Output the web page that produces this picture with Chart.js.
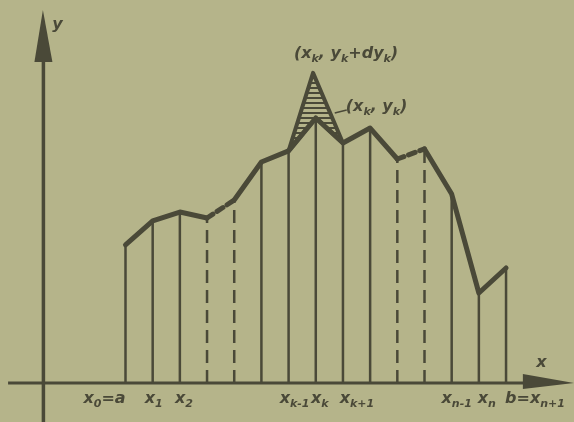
<!DOCTYPE html>
<html>
<head>
<meta charset="utf-8">
<script src="https://cdn.jsdelivr.net/npm/chart.js@4"></script>
<style>
  html, body { margin: 0; padding: 0; background: #b5b48a; overflow: hidden; }
  #wrap { width: 574px; height: 422px; }
</style>
</head>
<body>
<div id="wrap"><canvas id="chart" width="574" height="422"></canvas></div>
<script>
const BG = '#b5b48a';
const INK = '#4a4938';

// partition nodes x0 .. x(n+1) and the ordinates at them
const nodeX = [0, 1, 2, 3, 4, 5, 6, 7, 8, 9, 10, 11, 12, 13, 14];
const nodeY = [5.08, 5.96, 6.29, 6.07, 6.73, 8.13, 8.54, 9.75, 8.83, 9.38, 8.24, 8.61, 6.95, 3.31, 4.23];
const dashedNodes = [3, 4, 10, 11];

// perturbed point (x_k, y_k + dy_k)
const peakX = 6.9;
const peakY = 11.41;
const kIndex = 7;

// subscripts written as _{...}
const tickLabels = ['x_{0}=a', 'x_{1}', 'x_{2}', 'x_{k-1}', 'x_{k}', 'x_{k+1}', 'x_{n-1}', 'x_{n}', 'b=x_{n+1}'];
const tickNodes = [0, 1, 2, 6, 7, 8, 12, 13, 14];

// axes extents (data units)
const X_MIN = -4.617, X_MAX = 16.5;
const Y_MIN = -1.435, Y_MAX = 14.09;
const Y_AXIS_AT = -3.02;

function ordinates(list) {
    const pts = [];
    list.forEach(i => {
        pts.push({ x: nodeX[i], y: 0 }, { x: nodeX[i], y: nodeY[i] }, { x: nodeX[i], y: null });
    });
    return pts;
}

const solidNodes = nodeX.map((_, i) => i).filter(i => !dashedNodes.includes(i));

// hatch pattern for the shaded triangle
const hatch = (() => {
    const c = document.createElement('canvas');
    c.width = 6; c.height = 5;
    const g = c.getContext('2d');
    g.fillStyle = INK;
    g.fillRect(0, 2, 6, 2);
    return g.createPattern(c, 'repeat');
})();

const MAIN_FONT = 'italic bold 16px "DejaVu Sans"';
const SUB_FONT = 'italic bold 11px "DejaVu Sans"';

// split 'x_{k}' into [{t:'x'},{t:'k',sub:true}]
function parts(label) {
    const out = [];
    const re = /_\{([^}]*)\}/g;
    let last = 0, m;
    while ((m = re.exec(label))) {
        if (m.index > last) out.push({ t: label.slice(last, m.index) });
        out.push({ t: m[1], sub: true });
        last = re.lastIndex;
    }
    if (last < label.length) out.push({ t: label.slice(last) });
    return out;
}

function drawRich(ctx, label, x, y, align) {
    const ps = parts(label);
    let w = 0;
    ps.forEach(p => { ctx.font = p.sub ? SUB_FONT : MAIN_FONT; p.w = ctx.measureText(p.t).width; w += p.w; });
    let cx = align === 'left' ? x : x - w / 2;
    ctx.textAlign = 'left';
    ps.forEach(p => {
        ctx.font = p.sub ? SUB_FONT : MAIN_FONT;
        ctx.fillText(p.t, cx, p.sub ? y + 5 : y);
        cx += p.w;
    });
}

const axesPlugin = {
    id: 'axes',
    beforeDatasetsDraw(chart) {
        const { ctx, scales: { x, y } } = chart;
        ctx.save();
        ctx.fillStyle = BG;
        ctx.fillRect(0, 0, chart.width, chart.height);
        ctx.strokeStyle = INK;
        ctx.fillStyle = INK;
        ctx.lineWidth = 3;
        // x axis
        const y0 = y.getPixelForValue(0);
        ctx.beginPath();
        ctx.moveTo(x.getPixelForValue(-4.32), y0);
        ctx.lineTo(x.getPixelForValue(15), y0);
        ctx.stroke();
        ctx.beginPath();
        ctx.moveTo(x.getPixelForValue(14.62), y0 - 9);
        ctx.lineTo(x.getPixelForValue(16.5), y0);
        ctx.lineTo(x.getPixelForValue(14.62), y0 + 6);
        ctx.closePath();
        ctx.fill();
        // y axis
        const xa = x.getPixelForValue(Y_AXIS_AT);
        ctx.lineWidth = 3.5;
        ctx.beginPath();
        ctx.moveTo(xa, y.getPixelForValue(Y_MIN));
        ctx.lineTo(xa, y.getPixelForValue(12));
        ctx.stroke();
        ctx.beginPath();
        ctx.moveTo(xa - 9, y.getPixelForValue(11.81));
        ctx.lineTo(xa - 0.5, y.getPixelForValue(13.72));
        ctx.lineTo(xa + 9, y.getPixelForValue(11.81));
        ctx.closePath();
        ctx.fill();
        ctx.restore();
    },
    afterDatasetsDraw(chart) {
        const { ctx, scales: { x, y } } = chart;
        ctx.save();
        ctx.fillStyle = INK;
        ctx.strokeStyle = INK;
        ctx.textBaseline = 'middle';
        const nudge = [-21, 1, 4, 6, 4, 14, 5, 8, 29];
        const ty = y.getPixelForValue(0) + 16;
        tickLabels.forEach((t, i) => {
            drawRich(ctx, t, x.getPixelForValue(nodeX[tickNodes[i]]) + nudge[i], ty, 'center');
        });
        // axis names
        drawRich(ctx, 'y', x.getPixelForValue(Y_AXIS_AT) + 14, 25, 'center');
        drawRich(ctx, 'x', x.getPixelForValue(15.3), y.getPixelForValue(0) - 20, 'center');
        // point labels
        const px = x.getPixelForValue(peakX), py = y.getPixelForValue(peakY);
        drawRich(ctx, '(x_{k}, y_{k}+dy_{k})', px + 33, py - 19, 'center');
        const kx = x.getPixelForValue(nodeX[kIndex]), ky = y.getPixelForValue(nodeY[kIndex]);
        ctx.lineWidth = 1.5;
        ctx.beginPath();
        ctx.moveTo(kx + 19, ky - 5);
        ctx.lineTo(kx + 31, ky - 8);
        ctx.stroke();
        drawRich(ctx, '(x_{k}, y_{k})', kx + 30, ky - 11, 'left');
        ctx.restore();
    }
};

new Chart(document.getElementById('chart').getContext('2d'), {
    type: 'scatter',
    plugins: [axesPlugin],
    data: {
        datasets: [
            {
                label: 'ordinates',
                data: ordinates(solidNodes),
                showLine: true,
                spanGaps: false,
                borderColor: INK,
                borderWidth: 2.5,
                pointRadius: 0,
                order: 4
            },
            {
                label: 'dashed ordinates',
                data: ordinates(dashedNodes),
                showLine: true,
                spanGaps: false,
                borderColor: INK,
                borderWidth: 2.5,
                borderDash: [13, 7],
                pointRadius: 0,
                order: 3
            },
            {
                label: 'perturbed',
                data: [
                    { x: nodeX[kIndex - 1], y: nodeY[kIndex - 1] },
                    { x: peakX, y: peakY },
                    { x: nodeX[kIndex + 1], y: nodeY[kIndex + 1] },
                    { x: nodeX[kIndex], y: nodeY[kIndex] },
                    { x: nodeX[kIndex - 1], y: nodeY[kIndex - 1] }
                ],
                showLine: true,
                fill: 'shape',
                backgroundColor: hatch,
                borderColor: INK,
                borderWidth: 4,
                borderJoinStyle: 'round',
                pointRadius: 0,
                order: 2
            },
            {
                label: 'polyline',
                data: nodeX.map((v, i) => ({ x: v, y: nodeY[i] })),
                showLine: true,
                borderColor: INK,
                borderWidth: 5,
                borderJoinStyle: 'round',
                borderCapStyle: 'round',
                pointRadius: 0,
                segment: {
                    borderDash: ctx => (ctx.p0DataIndex === 3 || ctx.p0DataIndex === 10) ? [7, 5] : undefined
                },
                order: 1
            }
        ]
    },
    options: {
        responsive: false,
        animation: false,
        layout: { padding: 0, autoPadding: false },
        plugins: {
            legend: { display: false },
            tooltip: { enabled: false }
        },
        scales: {
            x: { type: 'linear', min: X_MIN, max: X_MAX, display: false },
            y: { type: 'linear', min: Y_MIN, max: Y_MAX, display: false }
        }
    }
});
</script>
</body>
</html>
